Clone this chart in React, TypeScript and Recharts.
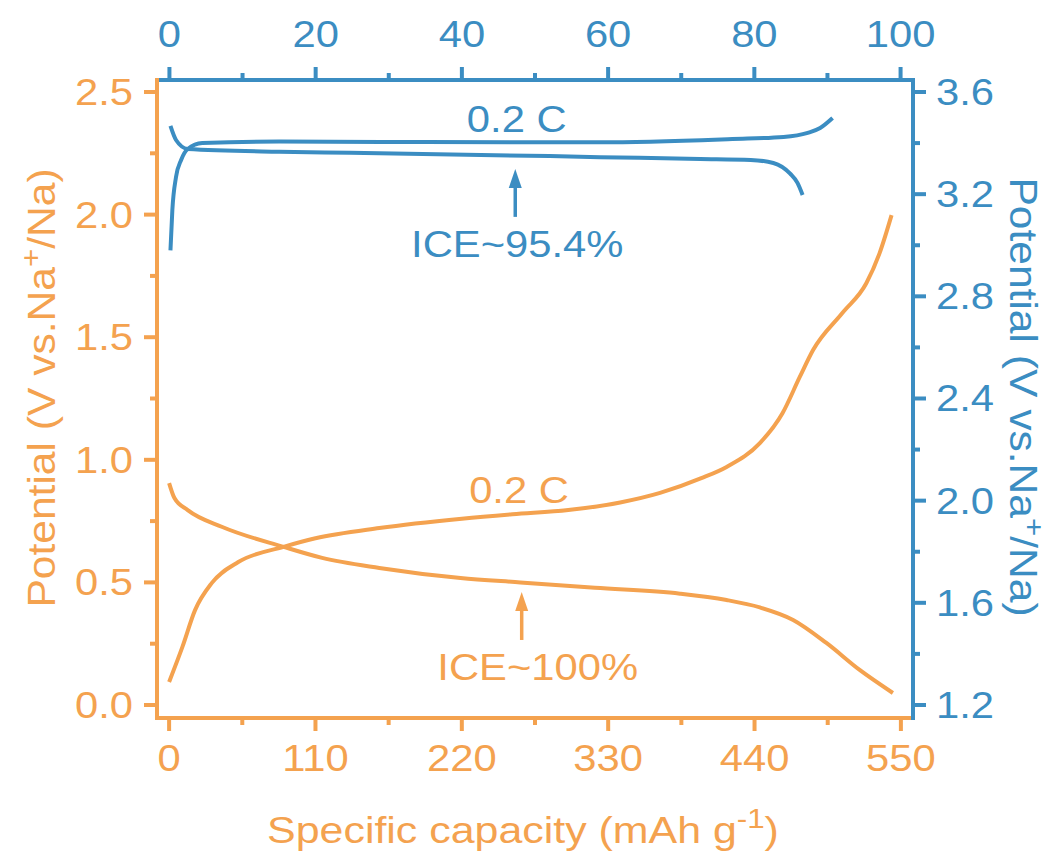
import React from 'react';
import { ComposedChart, Line, XAxis, YAxis, ReferenceDot } from 'recharts';

const ORANGE = '#F4A24F';
const BLUE = '#3B8DC2';
const FONT = 'Arial, "Liberation Sans", Helvetica, sans-serif';
// glyphs in this figure are a little wider than plain Arial
const SX = 1.16;

const W = 1051;
const H = 854;
const LEFT_W = 157;
const RIGHT_W = 138;
const TOP_H = 80;
const BOTTOM_H = 136;
const PLOT_L = LEFT_W;
const PLOT_R = W - RIGHT_W;
const PLOT_T = TOP_H;
const PLOT_B = H - BOTTOM_H;

// anode half cell (bottom / left axes): capacity in mAh/g, potential in V
const anodeDisCap = [0, 4, 14, 40, 86, 115, 158, 219, 264, 320, 384, 419, 444, 469, 494, 519, 544];
const anodeDisV = [0.905, 0.844, 0.795, 0.726, 0.645, 0.6, 0.559, 0.518, 0.5, 0.478, 0.454, 0.428, 0.398, 0.347, 0.253, 0.143, 0.049];
const anodeChgCap = [0, 10, 19.5, 32, 52, 86, 110, 158, 220, 258, 300, 339, 369, 400, 419, 444, 461, 474, 484, 506, 524, 534, 543];
const anodeChgV = [0.094, 0.237, 0.387, 0.497, 0.583, 0.645, 0.68, 0.722, 0.76, 0.778, 0.795, 0.826, 0.865, 0.925, 0.971, 1.068, 1.19, 1.338, 1.448, 1.599, 1.72, 1.843, 1.998];

// cathode half cell (top / right axes): capacity in %, potential in V
const cathodeDisPct = [0.14, 0.9, 2.5, 15, 24.7, 52, 58.9, 72.6, 79.5, 82.6, 84.9, 85.9, 86.6];
const cathodeDisV = [3.467, 3.412, 3.377, 3.366, 3.362, 3.349, 3.345, 3.338, 3.334, 3.322, 3.28, 3.244, 3.197];
const cathodeChgPct = [0.14, 0.4, 0.9, 1.6, 2.5, 4.5, 15, 35, 58.9, 77, 84, 87.3, 89, 90.7];
const cathodeChgV = [2.98, 3.138, 3.267, 3.334, 3.377, 3.4, 3.406, 3.404, 3.403, 3.416, 3.424, 3.44, 3.459, 3.498];

const capTicks = [0, 55, 110, 165, 220, 275, 330, 385, 440, 495, 550];
const pctTicks = [0, 10, 20, 30, 40, 50, 60, 70, 80, 90, 100];
const anodeVTicks = [0, 0.25, 0.5, 0.75, 1, 1.25, 1.5, 1.75, 2, 2.25, 2.5];
const cathodeVTicks = [1.2, 1.4, 1.6, 1.8, 2, 2.2, 2.4, 2.6, 2.8, 3, 3.2, 3.4, 3.6];

// annotation anchors, in data units of their own axes
const anodeRateAt = { x: 263, y: 0.824 };
const anodeIceAt = { x: 265, y: 0.461 };
const cathodeRateAt = { x: 47.5, y: 3.443 };
const cathodeIceAt = { x: 47.3, y: 3.299 };

const toPoints = (xs: number[], ys: number[]) => xs.map((x, i) => ({ x, y: ys[i] }));

const anodeDis = toPoints(anodeDisCap, anodeDisV);
const anodeChg = toPoints(anodeChgCap, anodeChgV);
const cathodeDis = toPoints(cathodeDisPct, cathodeDisV);
const cathodeChg = toPoints(cathodeChgPct, cathodeChgV);

type Side = 'left' | 'right' | 'top' | 'bottom';

function makeTick(side: Side, color: string, isMajor: (v: number) => boolean, fmt: (v: number) => string) {
  return (props: any) => {
    const c = props.payload.coordinate;
    const v = props.payload.value;
    const major = isMajor(v);
    const len = major ? 13 : 7;
    let x1 = 0, y1 = 0, x2 = 0, y2 = 0, tx = 0, ty = 0;
    let anchor: 'start' | 'middle' | 'end' = 'middle';
    if (side === 'left') {
      x1 = PLOT_L; x2 = PLOT_L - len; y1 = y2 = c;
      tx = PLOT_L - 24; ty = c + 13; anchor = 'end';
    } else if (side === 'right') {
      x1 = PLOT_R; x2 = PLOT_R + len; y1 = y2 = c;
      tx = PLOT_R + 23; ty = c + 13; anchor = 'start';
    } else if (side === 'bottom') {
      y1 = PLOT_B; y2 = PLOT_B + len; x1 = x2 = c;
      tx = c; ty = PLOT_B + 53;
    } else {
      y1 = PLOT_T; y2 = PLOT_T - len; x1 = x2 = c;
      tx = c; ty = PLOT_T - 33;
    }
    return (
      <g>
        <line x1={x1} y1={y1} x2={x2} y2={y2} stroke={color} strokeWidth={4} />
        {major && (
          <text
            transform={`translate(${tx},${ty}) scale(${SX},1)`}
            textAnchor={anchor}
            fill={color}
            fontSize={36}
            fontFamily={FONT}
          >
            {fmt(v)}
          </text>
        )}
      </g>
    );
  };
}

function UpArrow({ cx, cy, color, text, textDx }: { cx: number; cy: number; color: string; text: string; textDx: number }) {
  return (
    <g>
      <line x1={cx} y1={cy + 14} x2={cx} y2={cy + 48} stroke={color} strokeWidth={3.5} />
      <polygon points={`${cx},${cy} ${cx - 6.5},${cy + 19} ${cx + 6.5},${cy + 19}`} fill={color} />
      <text
        transform={`translate(${cx + textDx},${cy + 88}) scale(${SX},1)`}
        textAnchor="middle"
        fill={color}
        fontSize={36}
        fontFamily={FONT}
      >
        {text}
      </text>
    </g>
  );
}

function RateText({ cx, cy, color }: { cx: number; cy: number; color: string }) {
  return (
    <text transform={`translate(${cx},${cy}) scale(${SX},1)`} textAnchor="middle" fill={color} fontSize={36} fontFamily={FONT}>
      0.2 C
    </text>
  );
}

// vertical axis title; the stretch runs along the reading direction
function potentialTitle(color: string, x: number, y: number, angle: number) {
  return (
    <text
      transform={`translate(${x},${y}) rotate(${angle}) scale(1.12,1)`}
      textAnchor="middle"
      fill={color}
      fontSize={38}
      fontFamily={FONT}
    >
      Potential (V vs.Na
      <tspan dy={-15} fontSize={28}>+</tspan>
      <tspan dy={15} fontSize={38}>/Na)</tspan>
    </text>
  );
}

export default function App() {
  return (
    <div style={{ position: 'absolute', left: 0, top: 0, background: '#fff' }}>
      <ComposedChart width={W} height={H} margin={{ top: 0, right: 0, bottom: 0, left: 0 }}>
        <XAxis
          xAxisId="cap"
          orientation="bottom"
          type="number"
          dataKey="x"
          domain={[-9.1, 559.1]}
          allowDataOverflow
          ticks={capTicks}
          interval={0}
          height={BOTTOM_H}
          tickSize={0}
          tickMargin={0}
          tickLine={false}
          axisLine={{ stroke: ORANGE, strokeWidth: 4, strokeLinecap: 'square' }}
          tick={makeTick('bottom', ORANGE, (v) => v % 110 === 0, (v) => String(v))}
          label={{
            content: () => (
              <text
                transform={`translate(523,843) scale(${SX},1)`}
                textAnchor="middle"
                fill={ORANGE}
                fontSize={37}
                fontFamily={FONT}
              >
                Specific capacity (mAh g
                <tspan dy={-15} fontSize={27}>-1</tspan>
                <tspan dy={15} fontSize={37}>)</tspan>
              </text>
            ),
          }}
        />
        <XAxis
          xAxisId="pct"
          orientation="top"
          type="number"
          dataKey="x"
          domain={[-1.7, 101.7]}
          allowDataOverflow
          ticks={pctTicks}
          interval={0}
          height={TOP_H}
          tickSize={0}
          tickMargin={0}
          tickLine={false}
          axisLine={{ stroke: BLUE, strokeWidth: 4, strokeLinecap: 'square' }}
          tick={makeTick('top', BLUE, (v) => v % 20 === 0, (v) => String(v))}
        />
        <YAxis
          yAxisId="anode"
          orientation="left"
          type="number"
          domain={[-0.053, 2.549]}
          allowDataOverflow
          ticks={anodeVTicks}
          interval={0}
          width={LEFT_W}
          tickSize={0}
          tickMargin={0}
          tickLine={false}
          axisLine={{ stroke: ORANGE, strokeWidth: 4, strokeLinecap: 'square' }}
          tick={makeTick('left', ORANGE, (v) => Math.round(v * 100) % 50 === 0, (v) => v.toFixed(1))}
          label={{ content: () => potentialTitle(ORANGE, 55, 388, -90) }}
        />
        <YAxis
          yAxisId="cathode"
          orientation="right"
          type="number"
          domain={[1.149, 3.647]}
          allowDataOverflow
          ticks={cathodeVTicks}
          interval={0}
          width={RIGHT_W}
          tickSize={0}
          tickMargin={0}
          tickLine={false}
          axisLine={{ stroke: BLUE, strokeWidth: 4, strokeLinecap: 'square' }}
          tick={makeTick('right', BLUE, (v) => Math.round(v * 10) % 4 === 0, (v) => v.toFixed(1))}
          label={{ content: () => potentialTitle(BLUE, 1010, 397, 90) }}
        />

        <Line xAxisId="cap" yAxisId="anode" data={anodeDis} dataKey="y" type="monotone" stroke={ORANGE} strokeWidth={4} dot={false} isAnimationActive={false} />
        <Line xAxisId="cap" yAxisId="anode" data={anodeChg} dataKey="y" type="monotone" stroke={ORANGE} strokeWidth={4} dot={false} isAnimationActive={false} />
        <Line xAxisId="pct" yAxisId="cathode" data={cathodeDis} dataKey="y" type="monotone" stroke={BLUE} strokeWidth={4} dot={false} isAnimationActive={false} />
        <Line xAxisId="pct" yAxisId="cathode" data={cathodeChg} dataKey="y" type="monotone" stroke={BLUE} strokeWidth={4} dot={false} isAnimationActive={false} />

        <ReferenceDot
          xAxisId="cap"
          yAxisId="anode"
          x={anodeRateAt.x}
          y={anodeRateAt.y}
          shape={(p: any) => <RateText cx={p.cx} cy={p.cy} color={ORANGE} />}
        />
        <ReferenceDot
          xAxisId="cap"
          yAxisId="anode"
          x={anodeIceAt.x}
          y={anodeIceAt.y}
          shape={(p: any) => <UpArrow cx={p.cx} cy={p.cy} color={ORANGE} text="ICE~100%" textDx={16} />}
        />
        <ReferenceDot
          xAxisId="pct"
          yAxisId="cathode"
          x={cathodeRateAt.x}
          y={cathodeRateAt.y}
          shape={(p: any) => <RateText cx={p.cx} cy={p.cy} color={BLUE} />}
        />
        <ReferenceDot
          xAxisId="pct"
          yAxisId="cathode"
          x={cathodeIceAt.x}
          y={cathodeIceAt.y}
          shape={(p: any) => <UpArrow cx={p.cx} cy={p.cy} color={BLUE} text="ICE~95.4%" textDx={2} />}
        />
      </ComposedChart>
    </div>
  );
}
